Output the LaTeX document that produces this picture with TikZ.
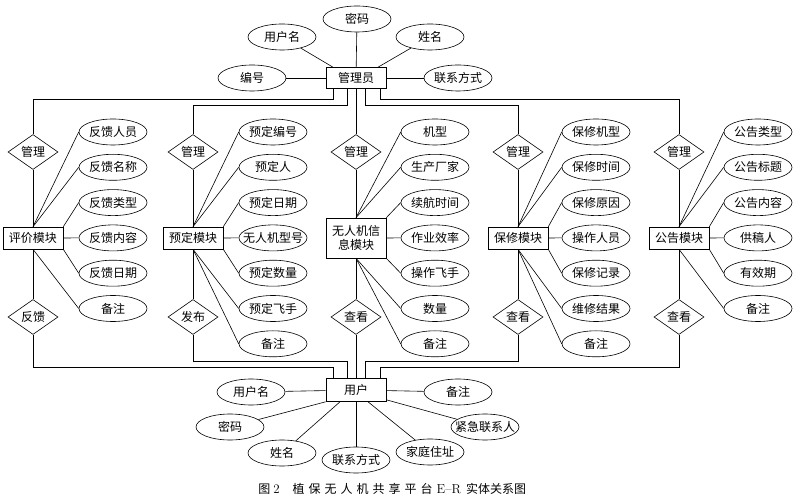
\documentclass[tikz,border=0pt]{standalone}
\usepackage{fontspec}
\newfontfamily\cjk{Noto Sans CJK SC}
\usetikzlibrary{shapes.geometric}
\newcommand\ztxt[1]{\makebox[0pt]{#1}}
\newcommand\csp{\hspace{4pt}}
\begin{document}
\begin{tikzpicture}[x=1pt,y=-1pt, line width=0.6pt,
  every node/.style={font=\cjk\fontsize{12}{14}\selectfont},
  attr/.style={draw, ellipse, minimum width=68pt, minimum height=26pt, inner sep=0pt},
  ent/.style={draw, rectangle, minimum width=60pt, minimum height=22pt, inner sep=1pt},
  rel/.style={draw, diamond, aspect=1.4, minimum width=50pt, minimum height=35pt, inner sep=0pt}]
\useasboundingbox[fill=white] (0,0) rectangle (800,502);

% administrator
\node[ent, minimum height=21pt] (adm) at (356,78) {管理员};
\node[attr] (ta1) at (252,78) {\ztxt{编号}};
\node[attr] (ta2) at (282,37) {\ztxt{用户名}};
\node[attr] (ta3) at (357,19) {\ztxt{密码}};
\node[attr] (ta4) at (430,37) {\ztxt{姓名}};
\node[attr] (ta5) at (458,78) {\ztxt{联系方式}};
\draw (ta1) -- (adm);
\draw (ta2) -- ([xshift=-23pt]adm.north);
\draw (ta3) -- (adm);
\draw (ta4) -- ([xshift=22pt]adm.north);
\draw (ta5) -- (adm);

% user
\node[ent, minimum height=23pt] (usr) at (356,390) {用户};
\node[attr] (ub1) at (251,392) {\ztxt{用户名}};
\node[attr] (ub2) at (230,427) {\ztxt{密码}};
\node[attr] (ub3) at (282,453) {\ztxt{姓名}};
\node[attr] (ub4) at (356,460) {\ztxt{联系方式}};
\node[attr] (ub5) at (430,452) {\ztxt{家庭住址}};
\node[attr] (ub6) at (485,427) {\ztxt{紧急联系人}};
\node[attr] (ub7) at (458,392) {\ztxt{备注}};
\draw (ub1) -- (usr);
\draw (ub2) -- (usr.south west);
\draw (ub3) -- ([xshift=-16pt]usr.south);
\draw (ub4) -- (usr.south);
\draw (ub5) -- ([xshift=12pt]usr.south);
\draw (ub6) -- ([yshift=2pt]usr.south east);
\draw (ub7) -- (usr);

% modules
\node[ent] (m1) at (33,238) {评价模块};
\node[ent] (m2) at (193,238) {预定模块};
\node[ent, minimum height=40pt, align=center] (m3) at (356,238) {无人机信\\息模块};
\node[ent] (m4) at (518,238) {保修模块};
\node[ent] (m5) at (679,238) {公告模块};

\node[rel] (r1t) at (33,152) {管理};
\node[rel] (r2t) at (193,152) {管理};
\node[rel] (r3t) at (356,152) {管理};
\node[rel] (r4t) at (518,152) {管理};
\node[rel] (r5t) at (679,152) {管理};
\node[rel] (r1b) at (33,317) {反馈};
\node[rel] (r2b) at (193,317) {发布};
\node[rel] (r3b) at (356,317) {查看};
\node[rel] (r4b) at (518,317) {查看};
\node[rel] (r5b) at (679,317) {查看};

\foreach \k in {1,...,5}{
  \draw (r\k t.south) -- (m\k.north);
  \draw (m\k.south) -- (r\k b.north);
}

% bus lines
\draw ([xshift=-23pt]adm.south) -- ++(0,11) -| (r1t.north);
\draw ([xshift=-9pt]adm.south) -- ++(0,17) -| (r2t.north);
\draw (adm.south) -- (r3t.north);
\draw ([xshift=9pt]adm.south) -- ++(0,17) -| (r4t.north);
\draw ([xshift=24pt]adm.south) -- ++(0,11) -| (r5t.north);

\draw ([xshift=-23pt]usr.north) -- ++(0,-11) -| (r1b.south);
\draw ([xshift=-9pt]usr.north) -- ++(0,-17) -| (r2b.south);
\draw (usr.north) -- (r3b.south);
\draw ([xshift=9pt]usr.north) -- ++(0,-17) -| (r4b.south);
\draw ([xshift=24pt]usr.north) -- ++(0,-11) -| (r5b.south);

% attributes
\foreach \t [count=\i] in {反馈人员,反馈名称,反馈类型,反馈内容,反馈日期,备注}
  \node[attr] (a1\i) at (113,96.7+35.3*\i) {\ztxt{\t}};
\foreach \t [count=\i] in {预定编号,预定人,预定日期,无人机型号,预定数量,预定飞手,备注}
  \node[attr] (a2\i) at (273,96.7+35.3*\i) {\ztxt{\t}};
\foreach \t [count=\i] in {机型,生产厂家,续航时间,作业效率,操作飞手,数量,备注}
  \node[attr] (a3\i) at (435,96.7+35.3*\i) {\ztxt{\t}};
\foreach \t [count=\i] in {保修机型,保修时间,保修原因,操作人员,保修记录,维修结果,备注}
  \node[attr] (a4\i) at (596,96.7+35.3*\i) {\ztxt{\t}};
\foreach \t [count=\i] in {公告类型,公告标题,公告内容,供稿人,有效期,备注}
  \node[attr] (a5\i) at (758,96.7+35.3*\i) {\ztxt{\t}};

\foreach \an [count=\i] in {north,north,north east,east,south east,south}{
  \draw (m1.\an) -- (a1\i.west);
  \draw (m5.\an) -- (a5\i.west);
}
\foreach \an [count=\i] in {north,north,north east,east,south east,south,south}{
  \draw (m2.\an) -- (a2\i.west);
  \draw (m3.\an) -- (a3\i.west);
  \draw (m4.\an) -- (a4\i.west);
}

% caption
\node[anchor=west, inner sep=0pt] (cap) at (258,489)
  {图\hspace{3pt}{\rmfamily\fontsize{13}{14}\selectfont 2}\hspace{13pt}植\csp 保\csp 无\csp 人\csp 机\csp 共\csp 享\csp 平\csp 台\hspace{4pt}{\rmfamily\fontsize{13}{14}\selectfont E--R}\hspace{5pt}实体关系图};
\end{tikzpicture}
\end{document}
